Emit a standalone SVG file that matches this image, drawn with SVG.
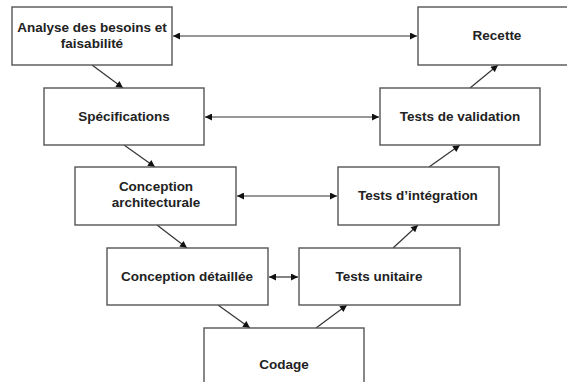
<svg xmlns="http://www.w3.org/2000/svg" width="567" height="382" viewBox="0 0 567 382">
<style>
.box{fill:#fff;stroke:#555;stroke-width:1.4}
.t{font-family:"Liberation Sans",Arial,sans-serif;font-weight:bold;font-size:13.5px;fill:#222;text-anchor:middle}
.c{stroke:#333;stroke-width:1.2;fill:none}
</style>
<defs>
<marker id="ah" viewBox="0 0 10 10" refX="10" refY="5" markerWidth="9" markerHeight="7" markerUnits="userSpaceOnUse" orient="auto-start-reverse">
<path d="M0,0 L10,5 L0,10 z" fill="#111"/>
</marker>
</defs>
<rect width="567" height="382" fill="#fff"/>
<g id="connectors">
<line class="c" x1="173" y1="36" x2="417" y2="36" marker-start="url(#ah)" marker-end="url(#ah)"/>
<line class="c" x1="205" y1="117" x2="379" y2="117" marker-start="url(#ah)" marker-end="url(#ah)"/>
<line class="c" x1="237" y1="196" x2="337" y2="196" marker-start="url(#ah)" marker-end="url(#ah)"/>
<line class="c" x1="269" y1="277" x2="298" y2="277" marker-start="url(#ah)" marker-end="url(#ah)"/>
<line class="c" x1="92" y1="65" x2="123" y2="88" marker-end="url(#ah)"/>
<line class="c" x1="124" y1="145" x2="155" y2="167" marker-end="url(#ah)"/>
<line class="c" x1="157" y1="225" x2="187" y2="248" marker-end="url(#ah)"/>
<line class="c" x1="218" y1="305" x2="250" y2="328" marker-end="url(#ah)"/>
<line class="c" x1="316" y1="328" x2="347" y2="305" marker-end="url(#ah)"/>
<line class="c" x1="393" y1="248" x2="418" y2="225" marker-end="url(#ah)"/>
<line class="c" x1="429" y1="167" x2="460" y2="145" marker-end="url(#ah)"/>
<line class="c" x1="470" y1="88" x2="498" y2="65" marker-end="url(#ah)"/>
</g>
<g id="analyse">
<rect class="box" x="12" y="7" width="160" height="58"/>
<text class="t" x="92" y="32">Analyse des besoins et</text>
<text class="t" x="92" y="48">faisabilité</text>
</g>
<g id="specifications">
<rect class="box" x="44" y="88" width="160" height="57"/>
<text class="t" x="124" y="121">Spécifications</text>
</g>
<g id="conception-architecturale">
<rect class="box" x="75" y="167" width="161" height="58"/>
<text class="t" x="156" y="191">Conception</text>
<text class="t" x="156" y="207">architecturale</text>
</g>
<g id="conception-detaillee">
<rect class="box" x="107" y="248" width="161" height="57"/>
<text class="t" x="187" y="281">Conception détaillée</text>
</g>
<g id="codage">
<rect class="box" x="204" y="328" width="160" height="60"/>
<text class="t" x="284" y="369">Codage</text>
</g>
<g id="tests-unitaire">
<rect class="box" x="299" y="248" width="161" height="57"/>
<text class="t" x="379" y="281">Tests unitaire</text>
</g>
<g id="tests-integration">
<rect class="box" x="338" y="167" width="161" height="58"/>
<text class="t" x="418" y="200">Tests d’intégration</text>
</g>
<g id="tests-validation">
<rect class="box" x="380" y="88" width="160" height="57"/>
<text class="t" x="460" y="121">Tests de validation</text>
</g>
<g id="recette">
<rect class="box" x="418" y="7" width="160" height="58"/>
<text class="t" x="497" y="40">Recette</text>
</g>
</svg>
